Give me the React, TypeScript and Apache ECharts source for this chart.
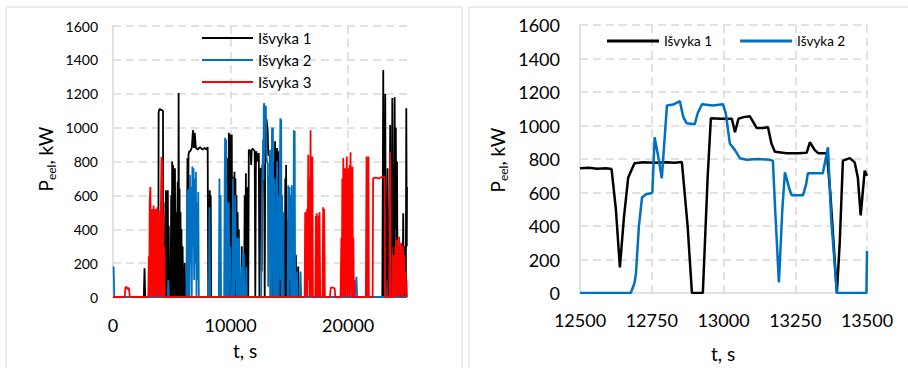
import React, { useEffect, useRef } from 'react';
import * as echarts from 'echarts';

const FONT = 'Lato, "Noto Sans", sans-serif';

const seriesNames = ['Išvyka 1', 'Išvyka 2', 'Išvyka 3'];
const seriesColors = ['#000000', '#0070C0', '#FF0000'];

// Full trip records: [t (s), P (kW)]
const trip1Full: number[][] = [
  [0, 0], [2620, 0], [2680, 170], [2740, 0],
  [3750, 0], [3800, 320], [3850, 0], [3880, 1090], [3950, 1110], [4100, 1105], [4250, 1100], [4280, 0], [4300, 560], [4360, 0],
  [4450, 0], [4500, 630], [4540, 0], [4580, 600], [4620, 150], [4660, 630], [4700, 0], [4740, 420], [4780, 0],
  [4900, 0], [4950, 600], [4990, 0], [5030, 800], [5070, 100], [5110, 780], [5150, 0], [5190, 720], [5230, 300], [5270, 760], [5310, 0], [5350, 500], [5390, 0],
  [5450, 0], [5500, 680], [5540, 0], [5580, 1205], [5620, 0], [5660, 640], [5700, 100], [5740, 500], [5780, 0], [5820, 400], [5860, 0], [5920, 300], [5960, 0], [6050, 0], [6100, 200], [6150, 0],
  [6280, 0], [6330, 820], [6380, 0], [6420, 840], [6470, 860], [6560, 860], [6700, 880], [6800, 985], [6880, 880], [6950, 970], [7050, 880], [7200, 870], [7400, 885], [7600, 870], [7800, 880], [7950, 870], [8050, 885], [8100, 0],
  [8180, 0], [8230, 630], [8270, 0], [8310, 600], [8350, 0],
  [9550, 0], [9600, 600], [9640, 0], [9700, 820], [9740, 0], [9780, 700], [9820, 0], [9850, 970], [9900, 200], [9940, 960], [9980, 0], [10020, 900], [10060, 300], [10100, 960], [10140, 0],
  [10200, 0], [10250, 710], [10290, 0], [10330, 740], [10370, 100], [10410, 700], [10450, 0], [10500, 600], [10540, 0], [10600, 500], [10640, 0], [10700, 400], [10740, 0],
  [10900, 0], [10950, 300], [10990, 0], [11150, 0], [11200, 600], [11240, 0], [11300, 730], [11340, 0], [11380, 650], [11420, 0],
  [11500, 0], [11550, 870], [11700, 860], [11750, 780], [11800, 870], [11900, 875], [12050, 860], [12100, 0], [12150, 780], [12200, 860], [12300, 800], [12400, 850], [12450, 0],
  [12500, 750], [12600, 760], [12640, 150], [12700, 780], [12850, 780], [12900, 0], [12930, 0], [12960, 1040], [13050, 1050], [13150, 990], [13200, 840], [13350, 835], [13390, 0], [13420, 800], [13480, 460], [13500, 730], [13560, 0],
  [13650, 0], [13700, 800], [13740, 0], [13780, 920], [13820, 200], [13850, 860], [13900, 0], [13950, 880], [14000, 810], [14050, 860], [14090, 0],
  [14200, 0], [14250, 700], [14290, 0], [14340, 600], [14380, 0], [14450, 400], [14490, 0],
  [14600, 0], [14650, 700], [14690, 0], [14720, 780], [14760, 0], [14800, 450], [14840, 0], [14900, 300], [14940, 0],
  [15050, 0], [15100, 500], [15140, 0], [15200, 440], [15240, 0], [15500, 0], [15550, 250], [15590, 0], [15700, 0], [15750, 180], [15800, 0],
  [21500, 0], [21550, 130], [21600, 0],
  [22900, 0], [22980, 1340], [23020, 0], [23060, 700], [23100, 200], [23150, 1200], [23200, 0], [23250, 500], [23300, 100], [23350, 760], [23400, 0], [23450, 300], [23500, 0],
  [23570, 1015], [23610, 100], [23650, 600], [23700, 0], [23750, 1175], [23800, 300], [23850, 650], [23900, 100], [23950, 1180], [24000, 400], [24050, 1000], [24100, 100], [24150, 800], [24200, 0],
  [24250, 300], [24300, 0], [24400, 200], [24450, 0], [24620, 0], [24680, 495], [24720, 0], [24760, 300], [24800, 0], [24850, 300], [24900, 0], [24940, 1115], [24980, 300], [25000, 650]
];

const trip2Full: number[][] = [
  [0, 175], [50, 178], [110, 0], [4650, 0], [4700, 100], [4760, 0],
  [6240, 0], [6300, 630], [6340, 0], [6380, 600], [6420, 100], [6450, 640], [6500, 0], [6550, 720], [6600, 200], [6650, 650], [6700, 0], [6750, 770], [6800, 300], [6850, 760], [6900, 100], [6950, 700], [7000, 200], [7050, 740], [7100, 0], [7150, 560], [7200, 100], [7250, 620], [7300, 0],
  [8150, 0], [8200, 530], [8260, 0],
  [9000, 0], [9050, 700], [9090, 0], [9150, 600], [9190, 0],
  [9450, 0], [9500, 700], [9530, 940], [9580, 0], [9620, 930], [9660, 200], [9700, 560], [9740, 0], [9780, 420], [9820, 0], [9850, 560], [9900, 100], [9950, 300], [10000, 0],
  [10150, 0], [10200, 700], [10240, 0], [10300, 500], [10340, 0], [10400, 600], [10440, 100], [10500, 350], [10540, 0], [10560, 350], [10600, 0], [10640, 200], [10680, 0], [10720, 350], [10780, 0],
  [10900, 0], [10950, 180], [11000, 0], [11050, 260], [11090, 0], [11120, 260], [11180, 0], [11300, 0], [11340, 180], [11380, 0],
  [12600, 0], [12680, 600], [12760, 930], [12790, 690], [12820, 1120], [12850, 1145], [12900, 1010], [12930, 1125], [13000, 1125], [13040, 850], [13100, 795], [13170, 790], [13195, 60], [13220, 720], [13240, 590], [13280, 590], [13300, 710], [13350, 715], [13365, 870], [13400, 0],
  [13470, 0], [13520, 1000], [13560, 200], [13600, 1000], [13640, 0], [13680, 700], [13720, 100], [13760, 700], [13800, 0],
  [13900, 0], [13950, 800], [13990, 0], [14050, 600], [14090, 0], [14150, 0], [14230, 1055], [14270, 100], [14300, 1050], [14340, 0], [14380, 600], [14420, 0], [14480, 500], [14520, 0],
  [14850, 0], [14900, 660], [14940, 0], [15000, 650], [15040, 100], [15100, 600], [15140, 0], [15200, 660], [15240, 0], [15300, 200], [15340, 0], [15380, 985], [15420, 0], [15450, 980], [15490, 0],
  [15600, 0], [15650, 150], [15700, 0], [15900, 0], [15950, 150], [16000, 0],
  [20450, 0], [20500, 100], [20550, 0], [20600, 40], [20700, 120], [20760, 0], [25000, 0]
];

const trip3Full: number[][] = [
  [0, 0], [1000, 0], [1050, 55], [1150, 60], [1250, 45], [1350, 55], [1430, 0],
  [3000, 0], [3050, 240], [3090, 0], [3120, 560], [3180, 650], [3220, 0], [3260, 450], [3300, 520], [3340, 0], [3380, 480], [3420, 100], [3450, 540], [3490, 0],
  [3530, 500], [3570, 200], [3610, 520], [3650, 0], [3690, 500], [3730, 100], [3770, 530], [3810, 0], [3850, 480], [3900, 510], [3940, 0], [3980, 300], [4020, 0],
  [4060, 450], [4120, 826], [4160, 0], [4200, 800], [4240, 100], [4280, 500], [4320, 0], [4360, 300], [4400, 0],
  [16300, 0], [16340, 500], [16380, 0], [16420, 480], [16460, 100], [16500, 520], [16540, 0], [16600, 840], [16640, 100], [16700, 700], [16740, 0], [16800, 985], [16840, 0], [16880, 700], [16920, 100], [16950, 830], [17000, 0],
  [17200, 0], [17250, 480], [17280, 0], [17330, 495], [17400, 0], [17500, 480], [17530, 0], [17560, 500], [17620, 0], [17820, 0], [17870, 530], [17910, 0], [17950, 520], [18020, 0],
  [18450, 0], [18520, 55], [18700, 55], [18850, 50], [18900, 0],
  [19350, 0], [19420, 350], [19460, 0], [19500, 700], [19540, 100], [19580, 820], [19620, 0], [19660, 600], [19700, 100], [19720, 760], [19760, 0], [19800, 730], [19840, 200], [19880, 830], [19920, 0],
  [19960, 760], [20000, 100], [20040, 700], [20080, 0], [20120, 780], [20160, 200], [20200, 855], [20240, 0], [20280, 650], [20320, 100], [20360, 770], [20400, 0], [20440, 350], [20480, 0], [20520, 100], [20560, 0],
  [21500, 0], [21560, 830], [21600, 0], [21640, 800], [21680, 100], [21720, 830], [21760, 0],
  [22080, 0], [22120, 700], [22300, 705], [22600, 700], [22900, 710], [23100, 710], [23140, 0],
  [23500, 0], [23560, 855], [23620, 0], [23800, 0], [23850, 250], [23880, 0], [23920, 220], [23960, 50], [24000, 300], [24040, 0], [24080, 200], [24120, 50], [24160, 340], [24200, 0],
  [24250, 250], [24290, 50], [24330, 355], [24370, 0], [24420, 280], [24460, 50], [24500, 320], [24540, 0], [24580, 250], [24620, 60], [24660, 300], [24700, 0], [24750, 250], [24790, 50],
  [24850, 150], [24900, 0], [24950, 100], [25000, 0]
];

// Detailed window 12500–13500 s
const trip1Zoom: number[][] = [
  [12500, 745], [12530, 748], [12560, 742], [12590, 745], [12610, 740], [12625, 500], [12639, 153], [12653, 450],
  [12668, 690], [12690, 775], [12720, 780], [12760, 778], [12800, 780], [12830, 778], [12855, 782], [12875, 400],
  [12890, 0], [12928, 0], [12945, 700], [12956, 1043], [12990, 1040], [13029, 1040], [13040, 960], [13052, 1040],
  [13070, 1050], [13092, 1055], [13116, 985], [13139, 985], [13155, 990], [13167, 893], [13179, 843], [13220, 835],
  [13260, 835], [13290, 838], [13301, 900], [13318, 853], [13330, 835], [13360, 835], [13372, 600], [13395, 0],
  [13405, 300], [13416, 790], [13440, 805], [13457, 780], [13468, 690], [13478, 463], [13492, 730], [13500, 700]
];

const trip2Zoom: number[][] = [
  [12500, 0], [12677, 0], [12690, 60], [12695, 117], [12705, 393], [12716, 570], [12730, 590], [12747, 595],
  [12752, 600], [12760, 930], [12772, 820], [12785, 685], [12803, 1120], [12825, 1125], [12848, 1145],
  [12860, 1050], [12872, 1013], [12900, 1008], [12910, 1073], [12925, 1127], [12963, 1120], [12998, 1127],
  [13008, 1073], [13022, 893], [13040, 853], [13057, 805], [13081, 795], [13120, 800], [13161, 795], [13172, 790],
  [13180, 500], [13193, 63], [13205, 500], [13214, 720], [13231, 613], [13238, 583], [13277, 583], [13288, 650],
  [13294, 715], [13346, 715], [13364, 870], [13375, 450], [13395, 0], [13498, 0], [13500, 250]
];

const gridColor = '#d9d9d9';
const textColor = '#000000';
const plain = (v: number) => String(v);

function valueAxis(extra: any) {
  return {
    type: 'value',
    axisLine: { show: true, lineStyle: { color: gridColor, width: 1.5 } },
    axisTick: { show: false },
    splitLine: { show: true, showMinLine: false, lineStyle: { color: gridColor, width: 1.5, type: [8, 5] } },
    ...extra,
  };
}

export default function App() {
  const ref = useRef<HTMLDivElement>(null);
  useEffect(() => {
    if (!ref.current) return;
    const chart = echarts.init(ref.current, undefined, { renderer: 'svg' });
    const yTitleRich = {
      p: { fontSize: 19, fontFamily: FONT, fill: textColor, lineHeight: 24 },
      s: { fontSize: 12, fontFamily: FONT, fill: textColor, lineHeight: 12, verticalAlign: 'bottom' },
    };
    const option: any = {
      animation: false,
      textStyle: { fontFamily: FONT },
      grid: [
        { left: 113, top: 26, width: 294, height: 271 },
        { left: 580, top: 25, width: 287, height: 268 },
      ],
      xAxis: [
        valueAxis({
          gridIndex: 0, min: 0, max: 25000, interval: 10000,
          axisLabel: { fontSize: 18, color: textColor, margin: 19, showMaxLabel: false, fontFamily: FONT, formatter: plain },
          splitLine: { show: true, showMinLine: false, showMaxLine: false, lineStyle: { color: gridColor, width: 1.5, type: [8, 5] } },
        }),
        valueAxis({
          gridIndex: 1, min: 12500, max: 13500, interval: 250,
          axisLabel: { fontSize: 18, color: textColor, margin: 18, fontFamily: FONT, formatter: plain },
        }),
      ],
      yAxis: [
        valueAxis({
          gridIndex: 0, min: 0, max: 1600, interval: 200,
          axisLabel: { fontSize: 14, color: textColor, margin: 15, fontFamily: FONT, formatter: plain },
        }),
        valueAxis({
          gridIndex: 1, min: 0, max: 1600, interval: 200,
          axisLabel: { fontSize: 18, color: textColor, margin: 20, fontFamily: FONT, formatter: plain },
        }),
      ],
      legend: [
        {
          data: seriesNames, orient: 'vertical', left: 202, top: 29, padding: 0,
          icon: 'rect', itemWidth: 51, itemHeight: 2, itemGap: 4,
          textStyle: { fontSize: 15, lineHeight: 18, color: textColor, fontFamily: FONT },
        },
        {
          data: seriesNames.slice(0, 2), orient: 'horizontal', left: 607, top: 33, padding: 0,
          icon: 'rect', itemWidth: 52, itemHeight: 3, itemGap: 28,
          textStyle: { fontSize: 13.5, lineHeight: 16, color: textColor, fontFamily: FONT },
        },
      ],
      series: [
        ...[trip1Full, trip2Full, trip3Full].map((d, i) => ({
          name: seriesNames[i], type: 'line', xAxisIndex: 0, yAxisIndex: 0, data: d,
          showSymbol: false, color: seriesColors[i], lineStyle: { width: 1.8, color: seriesColors[i] },
        })),
        ...[trip1Zoom, trip2Zoom].map((d, i) => ({
          name: seriesNames[i], type: 'line', xAxisIndex: 1, yAxisIndex: 1, data: d,
          showSymbol: false, color: seriesColors[i], lineStyle: { width: 2.5, color: seriesColors[i] },
        })),
      ],
      graphic: [
        { type: 'rect', shape: { x: 6, y: 7, width: 456, height: 420 }, style: { fill: 'none', stroke: gridColor, lineWidth: 1 }, silent: true },
        { type: 'rect', shape: { x: 469, y: 7, width: 460, height: 420 }, style: { fill: 'none', stroke: gridColor, lineWidth: 1 }, silent: true },
        {
          type: 'text', x: 45, y: 159, rotation: Math.PI / 2,
          style: { text: '{p|P}{s|eel}{p|, kW}', rich: yTitleRich, align: 'center', verticalAlign: 'middle', fill: textColor },
        },
        {
          type: 'text', x: 497, y: 160, rotation: Math.PI / 2,
          style: { text: '{p|P}{s|eel}{p|, kW}', rich: yTitleRich, align: 'center', verticalAlign: 'middle', fill: textColor },
        },
        {
          type: 'text', x: 245, y: 350,
          style: { text: 't, s', fontSize: 19, fontFamily: FONT, fill: textColor, align: 'center', verticalAlign: 'middle' },
        },
        {
          type: 'text', x: 723, y: 353,
          style: { text: 't, s', fontSize: 19, fontFamily: FONT, fill: textColor, align: 'center', verticalAlign: 'middle' },
        },
      ],
    };
    chart.setOption(option);
    return () => chart.dispose();
  }, []);
  return <div ref={ref} style={{ position: 'absolute', left: 0, top: 0, width: 908, height: 368 }} />;
}
